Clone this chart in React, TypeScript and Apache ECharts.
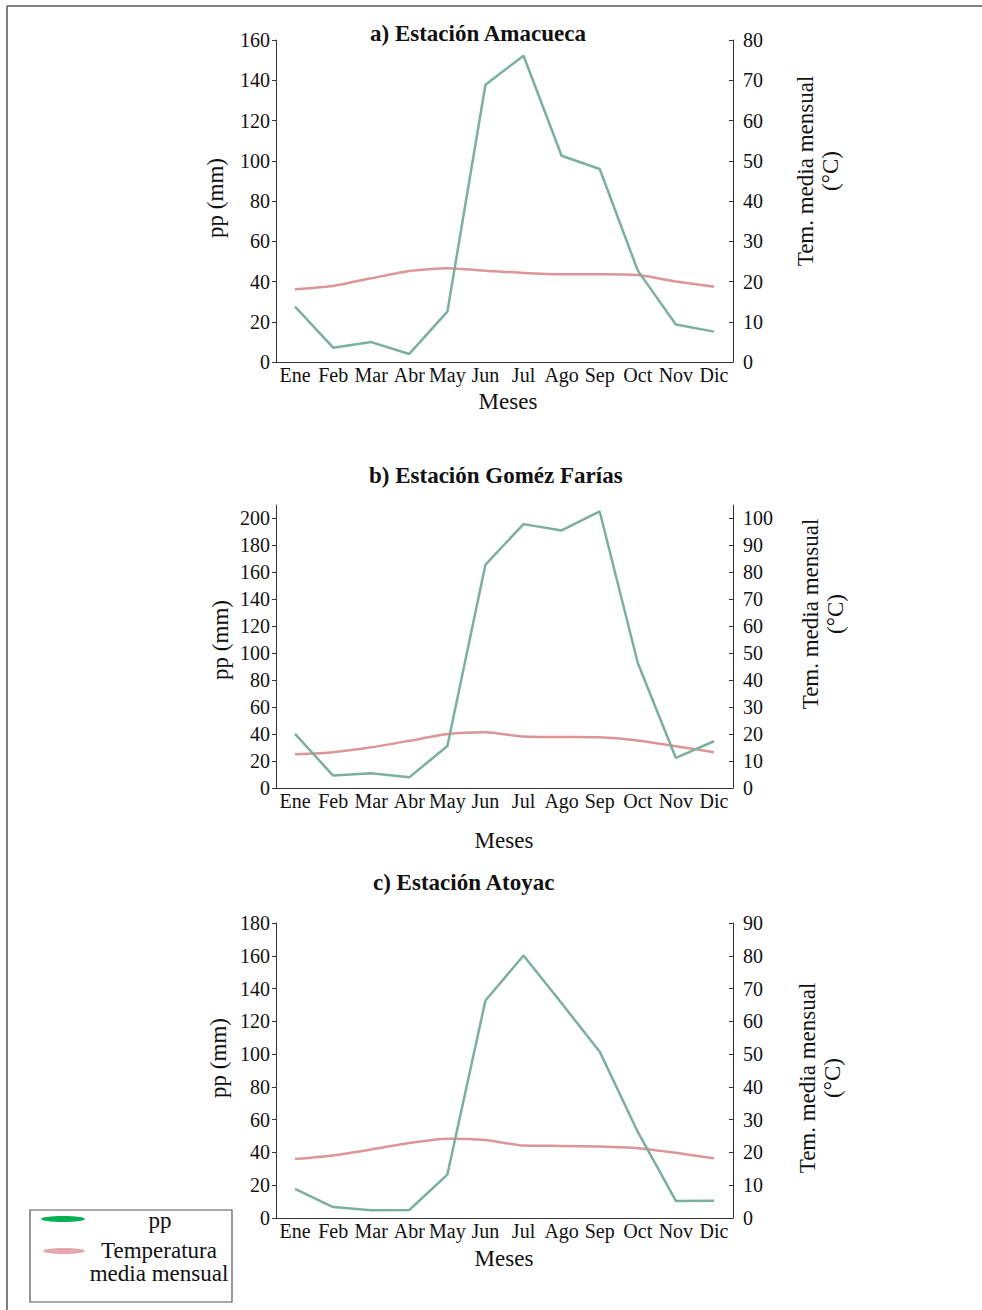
import React, { useEffect, useRef } from "react";
import * as echarts from "echarts";

const months = ["Ene", "Feb", "Mar", "Abr", "May", "Jun", "Jul", "Ago", "Sep", "Oct", "Nov", "Dic"];

const ppA = [27.5, 7.1, 9.9, 4.0, 25.0, 137.8, 152.2, 102.5, 95.9, 45.4, 18.6, 15.1];
const tempA = [18.1, 18.9, 20.8, 22.6, 23.3, 22.7, 22.1, 21.8, 21.8, 21.6, 20.0, 18.7];

const ppB = [40.1, 9.2, 10.9, 7.9, 31.2, 165.8, 195.8, 191.1, 205.2, 92.8, 22.3, 34.7];
const tempB = [12.5, 13.3, 15.1, 17.5, 20.0, 20.7, 19.1, 18.9, 18.8, 17.6, 15.5, 13.3];

const ppC = [17.7, 6.7, 4.7, 4.9, 26.5, 132.7, 160.2, 131.0, 101.5, 52.5, 10.4, 10.6];
const tempC = [18.0, 19.1, 20.9, 22.9, 24.2, 23.8, 22.1, 22.0, 21.8, 21.3, 19.9, 18.2];

const titles = ["a) Estación Amacueca", "b) Estación Goméz Farías", "c) Estación Atoyac"];
const leftName = "pp (mm)";
const rightName = "Tem. media mensual\n(°C)";
const xName = "Meses";
const legendPp = "pp";
const legendTemp = "Temperatura\nmedia mensual";

const FONT = "'Liberation Serif', 'Times New Roman', serif";
const GREEN = "#7bb09a";
const PINK = "#dc9698";
const AXIS = "#333";

export default function App() {
  const ref = useRef<HTMLDivElement>(null);
  useEffect(() => {
    if (!ref.current) return;
    const chart = echarts.init(ref.current, undefined, { renderer: "svg" });

    const grids = [
      { left: 276, width: 457, top: 40, height: 322 },
      { left: 276, width: 457, top: 505, height: 283 },
      { left: 276, width: 457, top: 923, height: 295 },
    ];
    const leftAxes = [
      { max: 160, interval: 20, labelMax: 160 },
      { max: 210, interval: 20, labelMax: 200 },
      { max: 180, interval: 20, labelMax: 180 },
    ];
    const rightAxes = [
      { max: 80, interval: 10, labelMax: 80 },
      { max: 105, interval: 10, labelMax: 100 },
      { max: 90, interval: 10, labelMax: 90 },
    ];
    const pps = [ppA, ppB, ppC];
    const temps = [tempA, tempB, tempC];

    const axisLabelStyle = { fontFamily: FONT, fontSize: 20, color: "#111" };

    const ticksUpTo = (max: number, step: number) => {
      const out: number[] = [];
      for (let v = 0; v <= max; v += step) out.push(v);
      return out;
    };

    const xAxis = grids.map((_, i) => ({
      type: "category",
      gridIndex: i,
      data: months,
      boundaryGap: true,
      axisLine: { onZero: false, lineStyle: { color: AXIS, width: 1 } },
      axisTick: { inside: true, length: 4, lineStyle: { color: AXIS } },
      axisLabel: { ...axisLabelStyle, interval: 0, margin: 3 },
      splitLine: { show: false },
    }));

    const yAxis: any[] = [];
    grids.forEach((_, i) => {
      const l = leftAxes[i];
      const r = rightAxes[i];
      const lTicks = ticksUpTo(l.labelMax, l.interval);
      const rTicks = ticksUpTo(r.labelMax, r.interval);
      yAxis.push({
        type: "value",
        gridIndex: i,
        position: "left",
        min: 0,
        max: l.max,
        interval: l.interval,
        axisLine: { show: true, lineStyle: { color: AXIS, width: 1 } },
        axisTick: { show: true, length: 4, lineStyle: { color: AXIS }, customValues: lTicks },
        axisLabel: { ...axisLabelStyle, margin: 6, customValues: lTicks },
        splitLine: { show: false },
      });
      yAxis.push({
        type: "value",
        gridIndex: i,
        position: "right",
        min: 0,
        max: r.max,
        interval: r.interval,
        axisLine: { show: true, lineStyle: { color: AXIS, width: 1 } },
        axisTick: { show: true, inside: true, length: 4, lineStyle: { color: AXIS }, customValues: rTicks },
        axisLabel: { ...axisLabelStyle, margin: 10, customValues: rTicks },
        splitLine: { show: false },
      });
    });

    const series: any[] = [];
    grids.forEach((_, i) => {
      series.push({
        type: "line",
        name: "pp",
        xAxisIndex: i,
        yAxisIndex: i * 2,
        data: pps[i],
        showSymbol: false,
        symbol: "none",
        lineStyle: { color: GREEN, width: 2.5 },
        itemStyle: { color: GREEN },
        z: 3,
      });
      series.push({
        type: "line",
        name: "Temperatura media mensual",
        xAxisIndex: i,
        yAxisIndex: i * 2 + 1,
        data: temps[i],
        showSymbol: false,
        symbol: "none",
        smooth: 0.2,
        lineStyle: { color: PINK, width: 2.5 },
        itemStyle: { color: PINK },
        z: 2,
      });
    });

    const txt = (text: string, x: number, y: number, opts: any = {}) => ({
      type: "text",
      x,
      y,
      rotation: opts.rotation ?? 0,
      style: {
        text,
        fill: "#111",
        fontFamily: FONT,
        fontSize: opts.fontSize ?? 23,
        fontWeight: opts.fontWeight ?? "normal",
        textAlign: opts.align ?? "center",
        align: opts.align ?? "center",
        textVerticalAlign: "middle",
        verticalAlign: "middle",
        lineHeight: opts.lineHeight ?? 25,
      },
    });

    const R = Math.PI / 2;
    const graphic: any[] = [
      // frame
      { type: "line", shape: { x1: 7, y1: 6, x2: 982, y2: 6 }, style: { stroke: "#555", lineWidth: 1.5 } },
      { type: "line", shape: { x1: 7, y1: 6, x2: 7, y2: 1310 }, style: { stroke: "#555", lineWidth: 1.5 } },
      // titles
      txt(titles[0], 370, 33, { align: "left", fontWeight: "bold", fontSize: 23 }),
      txt(titles[1], 369, 475, { align: "left", fontWeight: "bold", fontSize: 23 }),
      txt(titles[2], 373, 882, { align: "left", fontWeight: "bold", fontSize: 23 }),
      // left names
      txt(leftName, 215, 198, { rotation: R }),
      txt(leftName, 220, 640, { rotation: R }),
      txt(leftName, 218, 1058, { rotation: R }),
      // right names
      txt(rightName, 818, 171, { rotation: R }),
      txt(rightName, 823, 614, { rotation: R }),
      txt(rightName, 820, 1078, { rotation: R }),
      // x names
      txt(xName, 508, 401),
      txt(xName, 504, 840),
      txt(xName, 504, 1258),
      // legend
      { type: "rect", shape: { x: 30, y: 1210, width: 202, height: 92 }, style: { fill: "#fff", stroke: "#555", lineWidth: 1.2 } },
      { type: "ellipse", shape: { cx: 63, cy: 1219, rx: 22, ry: 3 }, style: { fill: "#00b050" } },
      { type: "ellipse", shape: { cx: 64, cy: 1251, rx: 21, ry: 3 }, style: { fill: "#e6a5a8" } },
      txt(legendPp, 160, 1220),
      txt(legendTemp, 159, 1262, { lineHeight: 23 }),
    ];

    chart.setOption({
      animation: false,
      backgroundColor: "#fff",
      grid: grids,
      xAxis,
      yAxis,
      series,
      graphic,
    });
    return () => chart.dispose();
  }, []);

  return (
    <div
      ref={ref}
      style={{ position: "absolute", left: 0, top: 0, width: 982, height: 1310 }}
    />
  );
}
